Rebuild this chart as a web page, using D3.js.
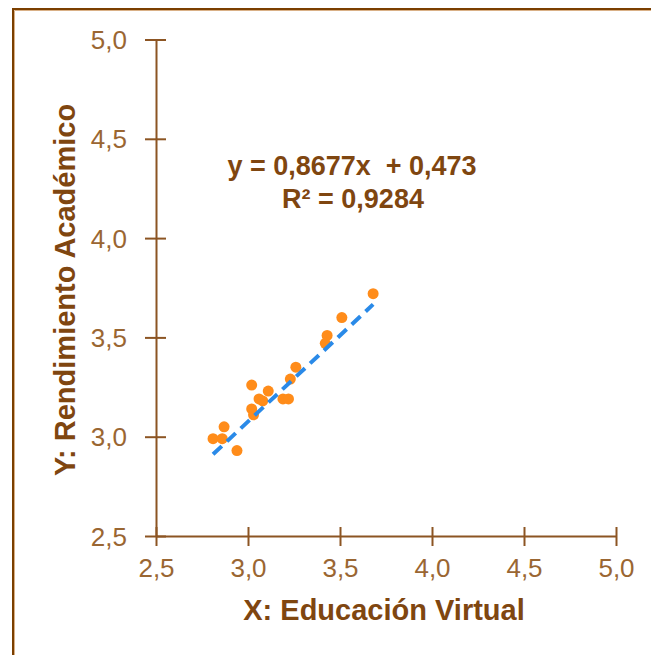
<!DOCTYPE html>
<html>
<head>
<meta charset="utf-8">
<script src="https://cdn.jsdelivr.net/npm/d3@7"></script>
<style>
  html, body { margin: 0; padding: 0; background: #fff; }
  svg { display: block; }
</style>
</head>
<body>
<svg id="chart" width="651" height="655"></svg>
<script>
// ---- data ----
const xValues = [3.68, 3.51, 3.43, 3.42, 3.26, 3.23, 3.02, 3.11, 3.06, 3.19, 3.22, 3.08, 3.02, 3.03, 2.87, 2.81, 2.86, 2.94];
const yValues = [3.72, 3.60, 3.51, 3.47, 3.35, 3.29, 3.26, 3.23, 3.19, 3.19, 3.19, 3.18, 3.14, 3.11, 3.05, 2.99, 2.99, 2.93];
const tickValues = [2.5, 3.0, 3.5, 4.0, 4.5, 5.0];
const trendSlope = 0.8677;
const trendIntercept = 0.473;
const equationLines = ["y = 0,8677x  + 0,473", "R² = 0,9284"];
const xTitle = "X: Educación Virtual";
const yTitle = "Y: Rendimiento Académico";

const fmt = v => d3.format(".1f")(v).replace(".", ",");

const svg = d3.select("#chart");

// frame
svg.append("rect").attr("x", 13).attr("y", 9).attr("width", 700).attr("height", 700)
  .attr("fill", "none").attr("stroke", "#7b3f00").attr("stroke-width", 2);
svg.append("path").attr("d", "M14.5,700V10.5H700")
  .attr("fill", "none").attr("stroke", "#d9b086").attr("stroke-width", 1);

const x = d3.scaleLinear().domain([2.5, 5]).range([156, 616]);
const y = d3.scaleLinear().domain([2.5, 5]).range([536, 39.5]);

const axisColor = "#8c5523";
const tickTextColor = "#9a6632";
const titleColor = "#7f4610";

// x axis
const gx = svg.append("g").attr("transform", `translate(0,${y(2.5)})`)
  .call(d3.axisBottom(x).tickValues(tickValues).tickFormat(fmt).tickSize(10).tickSizeOuter(0));
gx.select(".domain").attr("stroke", axisColor).attr("stroke-width", 2);
gx.selectAll(".tick line").attr("stroke", axisColor).attr("stroke-width", 2).attr("y1", -9).attr("y2", 10);
gx.selectAll(".tick text").attr("y", 41).attr("dy", null)
  .attr("fill", tickTextColor).style("font-family", "'Liberation Sans', Arial, sans-serif").style("font-size", "26px");

// y axis
const gy = svg.append("g").attr("transform", `translate(${x(2.5)},0)`)
  .call(d3.axisLeft(y).tickValues(tickValues).tickFormat(fmt).tickSize(11).tickSizeOuter(0));
gy.select(".domain").attr("stroke", axisColor).attr("stroke-width", 2);
gy.selectAll(".tick line").attr("stroke", axisColor).attr("stroke-width", 2).attr("x1", -11).attr("x2", 10);
gy.selectAll(".tick text").attr("x", -29).attr("dy", null).attr("y", 9)
  .attr("fill", tickTextColor).style("font-family", "'Liberation Sans', Arial, sans-serif").style("font-size", "26px");

// points
const pts = xValues.map((v, i) => ({x: v, y: yValues[i]}));
svg.append("g").selectAll("circle").data(pts).join("circle")
  .attr("cx", d => x(d.x)).attr("cy", d => y(d.y)).attr("r", 5.5)
  .attr("fill", "#ff8c1a");

// trendline
const xMin = d3.min(xValues), xMax = d3.max(xValues);
const trend = [xMin, xMax].map(v => ({x: v, y: trendSlope * v + trendIntercept}));
svg.append("path").datum(trend)
  .attr("d", d3.line().x(d => x(d.x)).y(d => y(d.y)))
  .attr("fill", "none").attr("stroke", "#2a8ae8").attr("stroke-width", 4)
  .attr("stroke-dasharray", "12,7");

// equation
const eq = svg.append("text").attr("text-anchor", "middle")
  .attr("fill", titleColor).style("font-family", "'Liberation Sans', Arial, sans-serif")
  .style("font-size", "27px").style("font-weight", "bold").attr("xml:space", "preserve");
eq.append("tspan").attr("x", 352).attr("y", 175).style("white-space", "pre").text(equationLines[0]);
eq.append("tspan").attr("x", 353).attr("y", 208).text(equationLines[1]);

// titles
svg.append("text").attr("x", 384).attr("y", 620).attr("text-anchor", "middle")
  .attr("fill", titleColor).style("font-family", "'Liberation Sans', Arial, sans-serif")
  .style("font-size", "29px").style("font-weight", "bold").text(xTitle);
svg.append("text").attr("transform", "translate(75,290) rotate(-90)").attr("text-anchor", "middle")
  .attr("fill", titleColor).style("font-family", "'Liberation Sans', Arial, sans-serif")
  .style("font-size", "29px").style("font-weight", "bold").text(yTitle);
</script>
</body>
</html>
